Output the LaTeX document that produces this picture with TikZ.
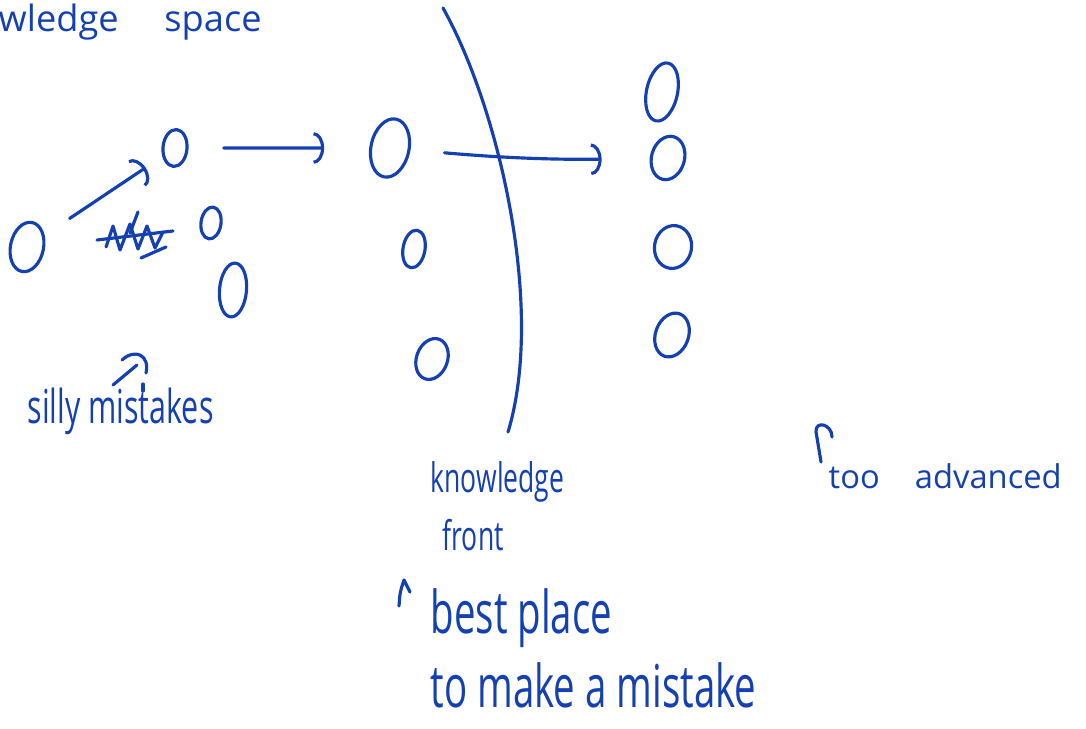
\documentclass[tikz,border=0pt]{standalone}
\usepackage{fontspec}
\newfontfamily\hand{Open Sans}
\newfontfamily\handn[FakeStretch=0.65]{Open Sans}
\usetikzlibrary{arrows.meta,shapes.geometric}
\definecolor{pen}{RGB}{20,64,178}

\tikzset{
  ink/.style={draw=pen,line width=0.9pt,line cap=round,line join=round},
  blob/.style={ink,ellipse,inner sep=0pt},
  note/.style={text=pen,inner sep=0pt,anchor=base west},
  jump/.style={ink,-{Arc Barb[length=3pt,width=9pt]}},
}

\begin{document}
\begin{tikzpicture}[x=0.01cm,y=-0.01cm]
  \useasboundingbox (0,0) rectangle (1086,728);

  % the space
  \node[note,font=\hand\fontsize{10.3}{12}\selectfont] (title) at (-2,32) {wledge\hspace{13pt}space};

  % points, left cluster
  \node[blob,minimum width=0.33cm,minimum height=0.50cm,rotate=-12] (p0) at (27,247) {};
  \node[blob,minimum width=0.24cm,minimum height=0.37cm,rotate=-5] (p1) at (175,148) {};
  \node[blob,minimum width=0.20cm,minimum height=0.32cm,rotate=-8] (p2) at (211,223) {};
  \node[blob,minimum width=0.27cm,minimum height=0.54cm,rotate=-5] (p3) at (233,290) {};
  % at the front
  \node[blob,minimum width=0.38cm,minimum height=0.59cm,rotate=-12] (q1) at (390,148) {};
  \node[blob,minimum width=0.22cm,minimum height=0.38cm,rotate=-10] (q2) at (414,249) {};
  \node[blob,minimum width=0.31cm,minimum height=0.42cm,rotate=-20] (q3) at (432,359) {};
  % beyond it
  \node[blob,minimum width=0.31cm,minimum height=0.59cm,rotate=-12] (r1) at (662,92) {};
  \node[blob,minimum width=0.33cm,minimum height=0.44cm,rotate=-15] (r2) at (668,158) {};
  \node[blob,minimum width=0.37cm,minimum height=0.43cm,rotate=-10] (r3) at (673,247) {};
  \node[blob,minimum width=0.33cm,minimum height=0.45cm,rotate=-20] (r4) at (672,335) {};

  % steps
  \draw[jump,shorten <=0.30cm,shorten >=0.20cm] (p0) -- (p1);
  \draw[jump,shorten <=0.35cm,shorten >=0.45cm] (p1) -- (q1);
  \draw[jump,shorten <=0.34cm,shorten >=0.48cm] (q1) to[bend right=3] (r2);

  % crossed out word
  \draw[ink] (97,240) -- (173,231);
  \draw[ink] (106,247) -- (113,226) -- (120,250) -- (130,224) -- (138,249) -- (147,226) -- (155,248) -- (163,232);
  \draw[ink] (141,258) -- (166,247);
  \draw[ink] (138,212) -- (130,233);

  % knowledge front
  \draw[ink] (443,8) .. controls (500,110) and (545,310) .. (508,432);

  % labels
  \node[note,font=\handn\fontsize{13.3}{16}\selectfont] (silly) at (27,423) {silly mistakes};
  \draw[ink] (113,385) -- (137,365);
  \draw[ink] (122,360) .. controls (135,348) and (150,355) .. (146,373);
  \draw[ink] (143,384) -- (143,391);

  \node[note,font=\handn\fontsize{11.6}{14}\selectfont] (front1) at (430,492) {knowledge};
  \node[note,font=\handn\fontsize{11.6}{14}\selectfont] (front2) at (442,550) {front};

  \draw[ink] (399,606) .. controls (400,592) .. (404,580) -- (410,592);
  \node[note,font=\handn\fontsize{16.8}{20}\selectfont] (best1) at (430,633) {best place};
  \node[note,font=\handn\fontsize{16.8}{20}\selectfont] (best2) at (430,707) {to make a mistake};

  \draw[ink] (821,462) -- (816,432) .. controls (815,420) and (832,424) .. (832,437);
  \node[note,font=\hand\fontsize{9.3}{11}\selectfont] (adv) at (828,488) {too\hspace{10pt}advanced};
\end{tikzpicture}
\end{document}
